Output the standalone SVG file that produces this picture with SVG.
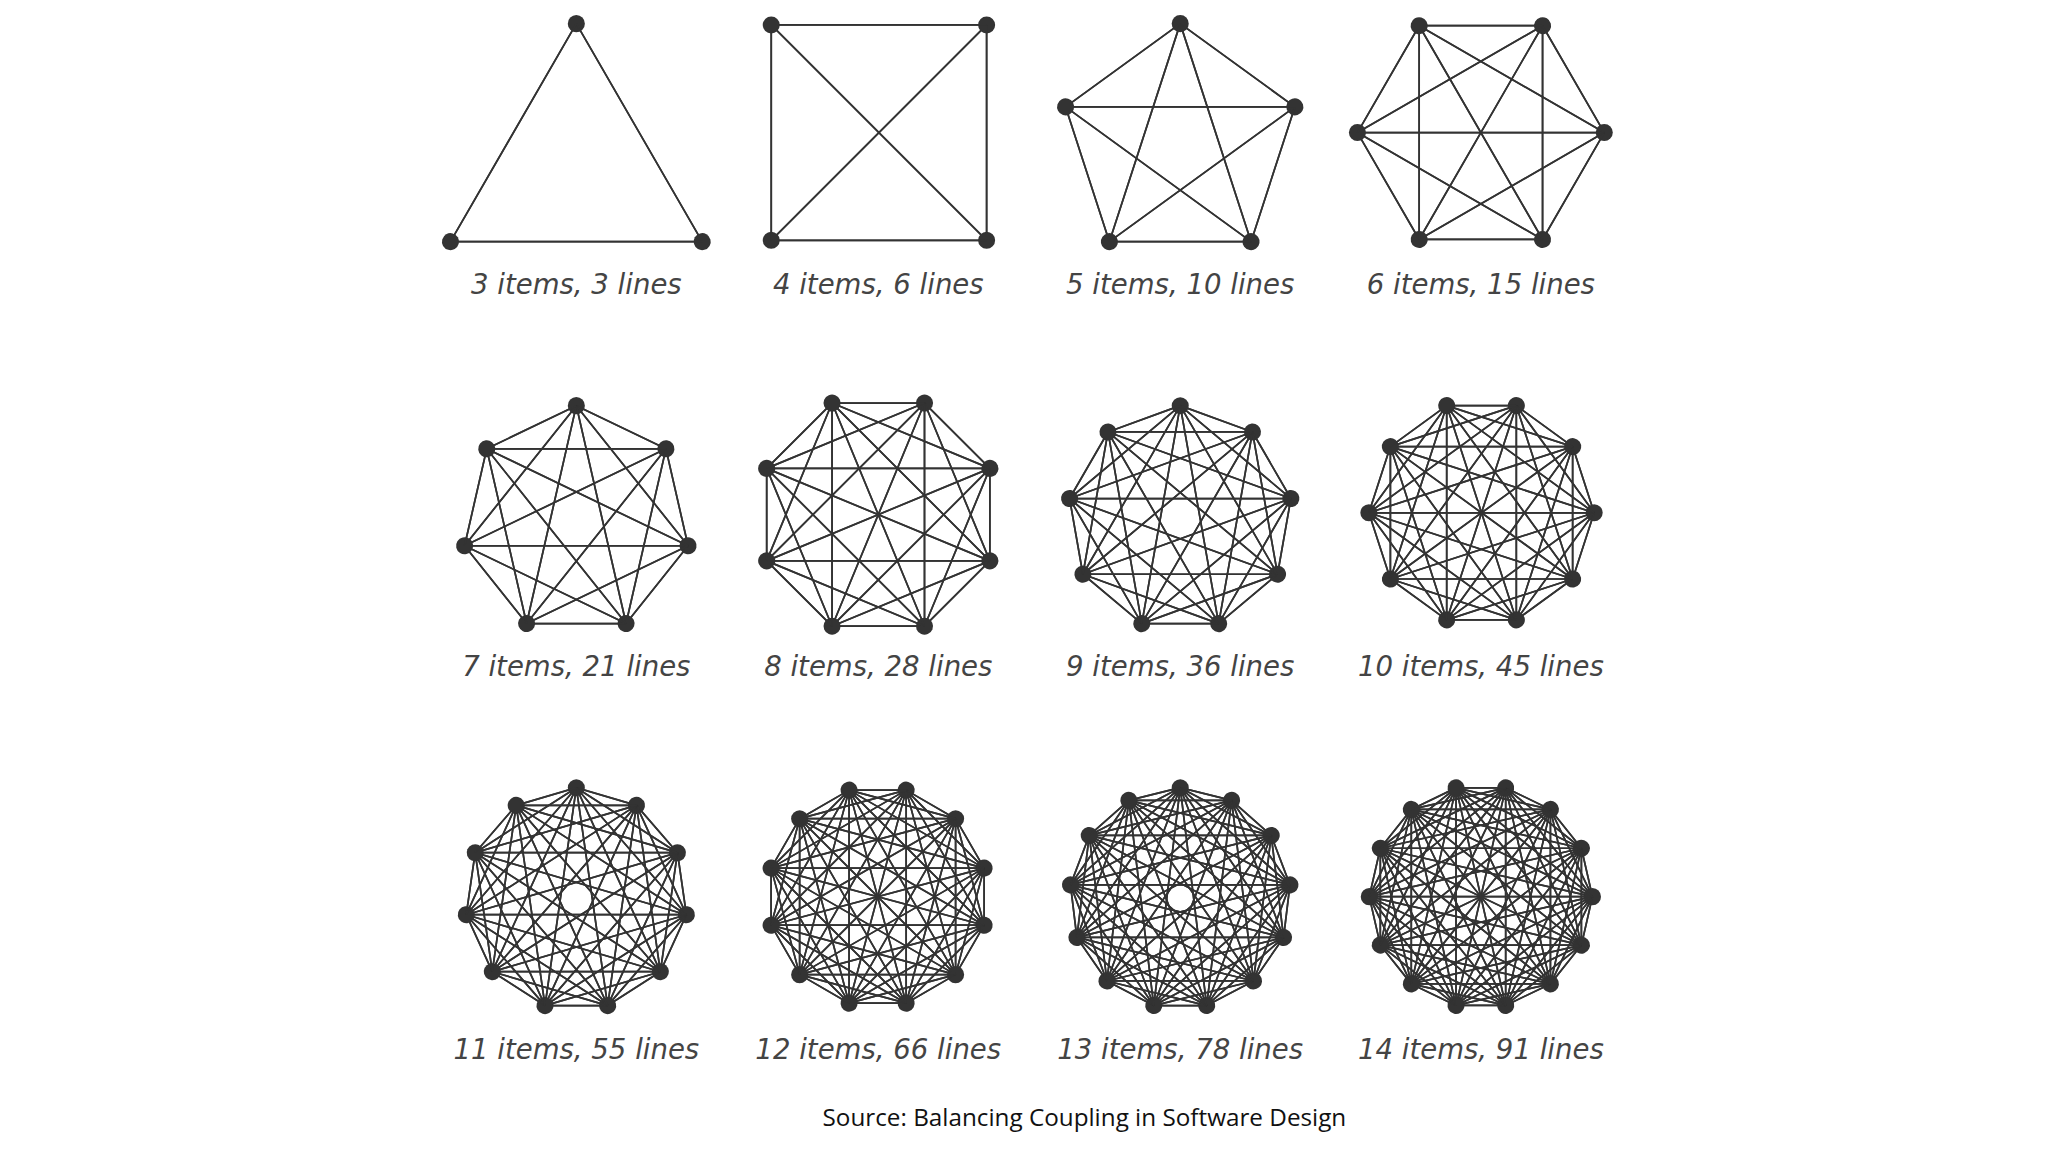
<svg xmlns="http://www.w3.org/2000/svg" xmlns:xlink="http://www.w3.org/1999/xlink" width="2048" height="1152" viewBox="0 0 2048 1152">
<style>
.f{fill:none;stroke:#333;stroke-width:1.7;vector-effect:non-scaling-stroke}
.d{fill:#333}
.lbl{font-family:"DejaVu Sans",sans-serif;font-style:italic;font-size:21px;fill:#444;text-anchor:middle}
.src{font-family:"Open Sans","DejaVu Sans",sans-serif;font-size:18.5px;fill:#111;text-anchor:middle}
</style>
<defs>
<g id="v3"><path class="f" d="M0-1L.866 .5M0-1L-.866 .5"/><circle class="d" cy="-1" r=".0587"/></g>
<g id="v4"><path class="f" d="M0-1L1 0M0-1L0 1M0-1L-1 0"/><circle class="d" cy="-1" r=".056"/></g>
<g id="v5"><path class="f" d="M0-1L.9511-.309M0-1L.5878 .809M0-1L-.5878 .809M0-1L-.9511-.309"/><circle class="d" cy="-1" r=".0708"/></g>
<g id="v6"><path class="f" d="M0-1L.866-.5M0-1L.866 .5M0-1L0 1M0-1L-.866 .5M0-1L-.866-.5"/><circle class="d" cy="-1" r=".0691"/></g>
<g id="v7"><path class="f" d="M0-1L.7818-.6235M0-1L.9749 .2225M0-1L.4339 .901M0-1L-.4339 .901M0-1L-.9749 .2225M0-1L-.7818-.6235"/><circle class="d" cy="-1" r=".0745"/></g>
<g id="v8"><path class="f" d="M0-1L.7071-.7071M0-1L1 0M0-1L.7071 .7071M0-1L0 1M0-1L-.7071 .7071M0-1L-1 0M0-1L-.7071-.7071"/><circle class="d" cy="-1" r=".0707"/></g>
<g id="v9"><path class="f" d="M0-1L.6428-.766M0-1L.9848-.1736M0-1L.866 .5M0-1L.342 .9397M0-1L-.342 .9397M0-1L-.866 .5M0-1L-.9848-.1736M0-1L-.6428-.766"/><circle class="d" cy="-1" r=".0759"/></g>
<g id="v10"><path class="f" d="M0-1L.5878-.809M0-1L.9511-.309M0-1L.9511 .309M0-1L.5878 .809M0-1L0 1M0-1L-.5878 .809M0-1L-.9511 .309M0-1L-.9511-.309M0-1L-.5878-.809"/><circle class="d" cy="-1" r=".0758"/></g>
<g id="v11"><path class="f" d="M0-1L.5406-.8413M0-1L.9096-.4154M0-1L.9898 .1423M0-1L.7557 .6549M0-1L.2817 .9595M0-1L-.2817 .9595M0-1L-.7557 .6549M0-1L-.9898 .1423M0-1L-.9096-.4154M0-1L-.5406-.8413"/><circle class="d" cy="-1" r=".0767"/></g>
<g id="v12"><path class="f" d="M0-1L.5-.866M0-1L.866-.5M0-1L1 0M0-1L.866 .5M0-1L.5 .866M0-1L0 1M0-1L-.5 .866M0-1L-.866 .5M0-1L-1 0M0-1L-.866-.5M0-1L-.5-.866"/><circle class="d" cy="-1" r=".0774"/></g>
<g id="v13"><path class="f" d="M0-1L.4647-.8855M0-1L.823-.5681M0-1L.9927-.1205M0-1L.935 .3546M0-1L.6631 .7485M0-1L.2393 .9709M0-1L-.2393 .9709M0-1L-.6631 .7485M0-1L-.935 .3546M0-1L-.9927-.1205M0-1L-.823-.5681M0-1L-.4647-.8855"/><circle class="d" cy="-1" r=".0772"/></g>
<g id="v14"><path class="f" d="M0-1L.4339-.901M0-1L.7818-.6235M0-1L.9749-.2225M0-1L.9749 .2225M0-1L.7818 .6235M0-1L.4339 .901M0-1L0 1M0-1L-.4339 .901M0-1L-.7818 .6235M0-1L-.9749 .2225M0-1L-.9749-.2225M0-1L-.7818-.6235M0-1L-.4339-.901"/><circle class="d" cy="-1" r=".0765"/></g>
</defs>
<rect width="2048" height="1152" fill="#fff"/>
<g transform="scale(1.31282)">
<g id="g3" transform="translate(439,128.7) scale(110.7)"><use href="#v3"/><use href="#v3" transform="rotate(120)"/><use href="#v3" transform="rotate(240)"/></g>
<g id="g4" transform="translate(669.5,101) rotate(45) scale(116)"><use href="#v4"/><use href="#v4" transform="rotate(90)"/><use href="#v4" transform="rotate(180)"/><use href="#v4" transform="rotate(270)"/></g>
<g id="g5" transform="translate(899,109.8) scale(91.8)"><use href="#v5"/><use href="#v5" transform="rotate(72)"/><use href="#v5" transform="rotate(144)"/><use href="#v5" transform="rotate(216)"/><use href="#v5" transform="rotate(288)"/></g>
<g id="g6" transform="translate(1128,101) rotate(30) scale(94)"><use href="#v6"/><use href="#v6" transform="rotate(60)"/><use href="#v6" transform="rotate(120)"/><use href="#v6" transform="rotate(180)"/><use href="#v6" transform="rotate(240)"/><use href="#v6" transform="rotate(300)"/></g>
<g id="g7" transform="translate(439,396.3) scale(87.3)"><use href="#v7"/><use href="#v7" transform="rotate(51.43)"/><use href="#v7" transform="rotate(102.86)"/><use href="#v7" transform="rotate(154.29)"/><use href="#v7" transform="rotate(205.71)"/><use href="#v7" transform="rotate(257.14)"/><use href="#v7" transform="rotate(308.57)"/></g>
<g id="g8" transform="translate(669,392) rotate(22.5) scale(92)"><use href="#v8"/><use href="#v8" transform="rotate(45)"/><use href="#v8" transform="rotate(90)"/><use href="#v8" transform="rotate(135)"/><use href="#v8" transform="rotate(180)"/><use href="#v8" transform="rotate(225)"/><use href="#v8" transform="rotate(270)"/><use href="#v8" transform="rotate(315)"/></g>
<g id="g9" transform="translate(899,394.6) scale(85.6)"><use href="#v9"/><use href="#v9" transform="rotate(40)"/><use href="#v9" transform="rotate(80)"/><use href="#v9" transform="rotate(120)"/><use href="#v9" transform="rotate(160)"/><use href="#v9" transform="rotate(200)"/><use href="#v9" transform="rotate(240)"/><use href="#v9" transform="rotate(280)"/><use href="#v9" transform="rotate(320)"/></g>
<g id="g10" transform="translate(1128.5,390.6) rotate(18) scale(85.8)"><use href="#v10"/><use href="#v10" transform="rotate(36)"/><use href="#v10" transform="rotate(72)"/><use href="#v10" transform="rotate(108)"/><use href="#v10" transform="rotate(144)"/><use href="#v10" transform="rotate(180)"/><use href="#v10" transform="rotate(216)"/><use href="#v10" transform="rotate(252)"/><use href="#v10" transform="rotate(288)"/><use href="#v10" transform="rotate(324)"/></g>
<g id="g11" transform="translate(439,684.7) scale(84.7)"><use href="#v11"/><use href="#v11" transform="rotate(32.73)"/><use href="#v11" transform="rotate(65.45)"/><use href="#v11" transform="rotate(98.18)"/><use href="#v11" transform="rotate(130.91)"/><use href="#v11" transform="rotate(163.64)"/><use href="#v11" transform="rotate(196.36)"/><use href="#v11" transform="rotate(229.09)"/><use href="#v11" transform="rotate(261.82)"/><use href="#v11" transform="rotate(294.55)"/><use href="#v11" transform="rotate(327.27)"/></g>
<g id="g12" transform="translate(668.5,683) rotate(15) scale(84)"><use href="#v12"/><use href="#v12" transform="rotate(30)"/><use href="#v12" transform="rotate(60)"/><use href="#v12" transform="rotate(90)"/><use href="#v12" transform="rotate(120)"/><use href="#v12" transform="rotate(150)"/><use href="#v12" transform="rotate(180)"/><use href="#v12" transform="rotate(210)"/><use href="#v12" transform="rotate(240)"/><use href="#v12" transform="rotate(270)"/><use href="#v12" transform="rotate(300)"/><use href="#v12" transform="rotate(330)"/></g>
<g id="g13" transform="translate(899,684.2) scale(84.2)"><use href="#v13"/><use href="#v13" transform="rotate(27.69)"/><use href="#v13" transform="rotate(55.38)"/><use href="#v13" transform="rotate(83.08)"/><use href="#v13" transform="rotate(110.77)"/><use href="#v13" transform="rotate(138.46)"/><use href="#v13" transform="rotate(166.15)"/><use href="#v13" transform="rotate(193.85)"/><use href="#v13" transform="rotate(221.54)"/><use href="#v13" transform="rotate(249.23)"/><use href="#v13" transform="rotate(276.92)"/><use href="#v13" transform="rotate(304.62)"/><use href="#v13" transform="rotate(332.31)"/></g>
<g id="g14" transform="translate(1128,683) rotate(12.86) scale(85)"><use href="#v14"/><use href="#v14" transform="rotate(25.71)"/><use href="#v14" transform="rotate(51.43)"/><use href="#v14" transform="rotate(77.14)"/><use href="#v14" transform="rotate(102.86)"/><use href="#v14" transform="rotate(128.57)"/><use href="#v14" transform="rotate(154.29)"/><use href="#v14" transform="rotate(180)"/><use href="#v14" transform="rotate(205.71)"/><use href="#v14" transform="rotate(231.43)"/><use href="#v14" transform="rotate(257.14)"/><use href="#v14" transform="rotate(282.86)"/><use href="#v14" transform="rotate(308.57)"/><use href="#v14" transform="rotate(334.29)"/></g>
<g id="labels">
<text class="lbl" x="439" y="224">3 items, 3 lines</text>
<text class="lbl" x="669" y="224">4 items, 6 lines</text>
<text class="lbl" x="899" y="224">5 items, 10 lines</text>
<text class="lbl" x="1128" y="224">6 items, 15 lines</text>
<text class="lbl" x="439" y="515">7 items, 21 lines</text>
<text class="lbl" x="669" y="515">8 items, 28 lines</text>
<text class="lbl" x="899" y="515">9 items, 36 lines</text>
<text class="lbl" x="1128" y="515">10 items, 45 lines</text>
<text class="lbl" x="439" y="807">11 items, 55 lines</text>
<text class="lbl" x="669" y="807">12 items, 66 lines</text>
<text class="lbl" x="899" y="807">13 items, 78 lines</text>
<text class="lbl" x="1128" y="807">14 items, 91 lines</text>
<text class="src" x="826" y="858">Source: Balancing Coupling in Software Design</text>
</g>
</g>
</svg>
